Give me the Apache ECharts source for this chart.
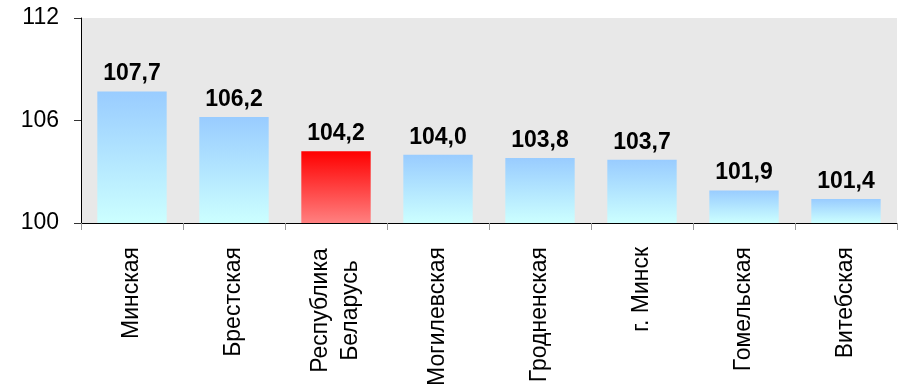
<!DOCTYPE html>
<html lang="ru" style="height: 100%">
  <head>
    <meta charset="utf-8" />
  </head>
  <body style="height: 100%; margin: 0">
    <div id="container" style="width: 899px; height: 391px"></div>

    <script src="https://cdn.jsdelivr.net/npm/echarts@6/dist/echarts.min.js"></script>

    <script type="text/javascript">
      var categories = ["Минская", "Брестская", "Республика\nБеларусь", "Могилевская",
        "Гродненская", "г. Минск", "Гомельская", "Витебская"];
      var values = [107.7, 106.2, 104.2, 104.0, 103.8, 103.7, 101.9, 101.4];
      var highlight = "Республика\nБеларусь";
      var yTicks = [100, 106, 112];

      var blueFill = new echarts.graphic.LinearGradient(0, 0, 0, 1, [
        { offset: 0, color: "#99ccff" },
        { offset: 1, color: "#ccffff" },
      ]);
      var redFill = new echarts.graphic.LinearGradient(0, 0, 0, 1, [
        { offset: 0, color: "#ff0000" },
        { offset: 1, color: "#ff8080" },
      ]);

      var myChart = echarts.init(document.getElementById("container"), null, {
        renderer: "canvas",
      });

      var option = {
        animation: false,
        grid: {
          left: 81,
          right: 2,
          top: 18,
          bottom: 168,
          show: true,
          backgroundColor: "#e8e8e8",
          borderWidth: 0,
        },
        xAxis: {
          type: "category",
          data: categories,
          axisLine: { lineStyle: { color: "#000", width: 1 } },
          axisTick: { show: true, length: 7, lineStyle: { color: "#999" } },
          axisLabel: {
            rotate: 90,
            margin: 24,
            interval: 0,
            color: "#000",
            fontFamily: "Liberation Sans, Arial, sans-serif",
            fontSize: 23,
            lineHeight: 30,
            // two-line names: each line centred in a fixed-width box
            formatter: function (v) {
              if (v.indexOf("\n") < 0) return v;
              return v.split("\n").map(function (s) { return "{w|" + s + "}"; }).join("\n");
            },
            rich: {
              w: {
                width: 127,
                align: "center",
                fontSize: 23,
                lineHeight: 30,
                color: "#000",
                fontFamily: "Liberation Sans, Arial, sans-serif",
              },
            },
          },
        },
        yAxis: {
          type: "value",
          min: yTicks[0],
          max: yTicks[yTicks.length - 1],
          interval: yTicks[1] - yTicks[0],
          splitLine: { show: false },
          axisLine: { show: true, lineStyle: { color: "#000", width: 1 } },
          axisTick: { show: true, length: 7, lineStyle: { color: "#333" } },
          axisLabel: {
            margin: 22,
            color: "#000",
            fontFamily: "Liberation Sans, Arial, sans-serif",
            fontSize: 23,
          },
        },
        series: [
          {
            type: "bar",
            barCategoryGap: "32%",
            data: values.map(function (v, i) {
              return {
                value: v,
                itemStyle: { color: categories[i] === highlight ? redFill : blueFill },
              };
            }),
            label: {
              show: true,
              position: "top",
              distance: 6,
              color: "#000",
              fontWeight: "bold",
              fontFamily: "Liberation Sans, Arial, sans-serif",
              fontSize: 23,
              formatter: function (p) {
                return p.value.toFixed(1).replace(".", ",");
              },
            },
          },
        ],
      };

      myChart.setOption(option);
    </script>
  </body>
</html>
